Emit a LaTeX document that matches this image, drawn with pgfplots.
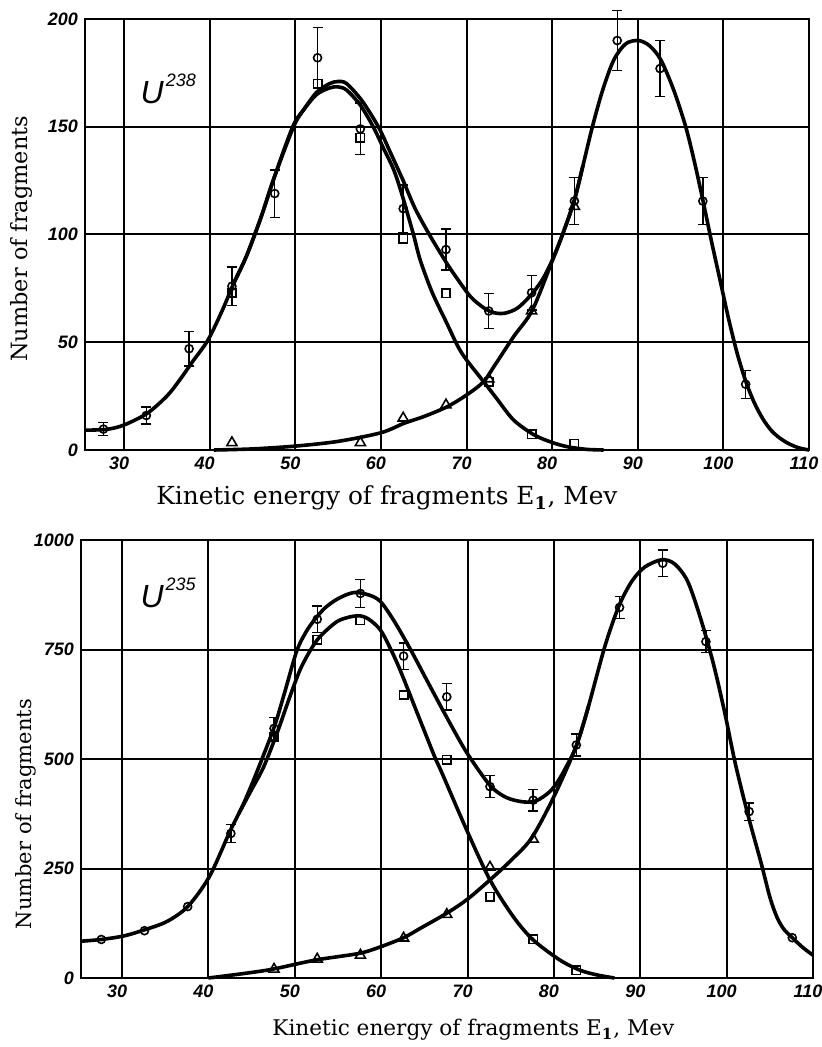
\documentclass[border=0pt]{standalone}
\usepackage{pgfplots}
\pgfplotsset{compat=1.18}
\usepackage{fontspec}
\setmainfont{DejaVu Serif}
\newfontfamily\tickfont{Liberation Sans}
\begin{document}
\begin{tikzpicture}
\useasboundingbox (-41.5pt,225pt) rectangle (369.5pt,-298.5pt);
\pgfplotsset{
  fragstyle/.style={
    scale only axis, clip=false,
    ymin=0, xmax=110,
    xtick={30,40,...,110},
    grid=major, major grid style={black, line width=1pt},
    major tick length=0pt,
    axis line style={line width=1.2pt},
    /pgf/number format/1000 sep={},
    /pgf/number format/assume math mode=true,
    ticklabel style={font=\tickfont\bfseries\itshape\fontsize{9}{10}\selectfont},
    xticklabel style={xshift=-2.5pt},
    label style={font=\fontsize{10.5}{12}\selectfont},
  },
  curve/.style={black, line width=1.8pt, smooth, no marks},
  circ/.style={only marks, mark=o, mark size=2pt, mark options={black, fill=white, line width=0.8pt}},
  circerr/.style={only marks, mark=o, mark size=2pt, mark options={black, fill=white, line width=0.8pt},
    error bars/.cd, y dir=both, y explicit, error mark=|,
    error bar style={black, line width=0.7pt},
    error mark options={black, line width=0.7pt, mark size=2.5pt}},
  sq/.style={only marks, mark=square, mark size=2.1pt, mark options={black, fill=white, line width=0.8pt}},
  tri/.style={only marks, mark=triangle, mark size=2.9pt, mark options={black, fill=white, line width=0.8pt}},
}
% ---------------- top panel: U238 ----------------
\begin{axis}[fragstyle,
  at={(1pt,0pt)}, anchor=south west,
  width=362pt, height=215.5pt,
  xmin=25.44, ymax=200, ytick={0,50,...,200},
  xlabel={Kinetic energy of fragments E\textsubscript{\textbf{1}}, Mev},
  ylabel={Number of fragments},
  xlabel style={at={(axis description cs:0.417,-0.111)}, anchor=center, font=\fontsize{12.4}{14}\selectfont},
  ylabel style={at={(axis description cs:-0.088,0.49)}, anchor=center, rotate=0, font=\fontsize{11.2}{13}\selectfont},
]
% total
\addplot[curve] coordinates {
(25.44,9.2) (28,9.6) (30,11.6) (32.7,17) (35,25) (36.5,32.5) (38,41) (39.8,51) (41.5,65) (42.8,77.3) (44.3,90) (46,108) (47.5,126) (49.8,150) (51,158) (52.5,166) (54,170) (55,171) (56,170) (57.8,162) (59.7,150) (61,139) (62.6,125) (64,112) (65.8,99) (67.7,86.6) (69,79) (70.5,71) (72,66) (73.2,63.7) (74.5,63.5) (76,66) (77.7,72.7) (79,80) (80.2,89.7) (81.4,102) (82.6,116) (83.6,132) (84.7,150) (85.9,167) (87.2,181) (88.6,188.5) (90.1,190) (91.4,187.5) (92.7,181) (94.2,167) (95.6,150) (96.6,134) (97.6,116) (98.6,97) (99.6,79) (100.6,61) (101.6,45) (102.6,32) (103.6,22) (104.6,14.5) (105.6,9) (106.6,5.5) (107.6,3) (108.8,1) (110,0)
};
% squares curve
\addplot[curve] coordinates {
(42.8,77.3) (44.3,90) (46,108) (47.5,126) (49.7,150) (51,158) (52.5,165) (54,168) (55,168.5) (56,167) (57.6,160) (59.1,150) (60.3,140) (61.5,130) (62.5,118) (63.8,100) (64.6,88) (66,73) (67.7,58.8) (69,48) (70,41.8) (72,31.7) (73.5,24) (75.5,13.9) (77.9,7) (80,3.5) (81.8,1.5) (84,0.3) (86,0)
};
% triangles curve
\addplot[curve] coordinates {
(40.5,0) (45,0.5) (50,1.8) (55,4) (60,8) (62.7,12.4) (65,15.5) (67.7,20) (70,25.5) (72,31.7) (73.2,38.7) (75.5,52.6) (77.7,65) (80.2,89.7) (81.4,102) (82.6,116) (83.6,132)
};
\addplot[circerr] table[x=x, y=y, y error=e] {
x y e
27.6 9.7 3
32.6 16 4
37.6 47 8
42.6 76 9
47.6 119 11
52.6 182 14
57.6 149 12
62.6 112 11
67.6 93 9.5
72.6 64.5 8
77.6 73 8
82.6 115.5 11
87.6 190 14
92.6 177 13
97.6 115.5 11
102.6 30.5 6.5
};
\addplot[sq] coordinates {
(42.6,73) (52.6,170) (57.6,145) (62.6,98) (67.6,72.7) (72.6,31.7) (77.6,7.3) (82.6,3)
};
\addplot[tri] coordinates {
(42.6,3.4) (57.6,3.4) (62.6,14.8) (67.6,20.9) (72.6,33) (77.6,64.5) (82.6,113)
};
\node[anchor=base west, inner sep=0pt] at (axis cs:31.9,161)
  {\tickfont\itshape\fontsize{16}{16}\selectfont U\kern1pt\raisebox{8.5pt}{\fontsize{9}{9}\selectfont 238}};
\end{axis}
% ---------------- bottom panel: U235 ----------------
\begin{axis}[fragstyle,
  at={(-1pt,-264pt)}, anchor=south west,
  width=366pt, height=219pt,
  xmin=25.25, ymax=1000, ytick={0,250,...,1000},
  xlabel={Kinetic energy of fragments E\textsubscript{\textbf{1}}, Mev},
  ylabel={Number of fragments},
  xlabel style={at={(axis description cs:0.536,-0.119)}, anchor=center, font=\fontsize{10.8}{12}\selectfont},
  ylabel style={at={(axis description cs:-0.075,0.374)}, anchor=center, rotate=0},
]
\addplot[curve] coordinates {
(25.25,84) (27.6,88) (30.2,96) (32.6,110) (35.2,129) (37.6,163) (40.1,231) (42.5,335) (44,395) (45.5,465) (47.6,572) (48.8,650) (50.2,745) (51.3,790) (52.3,818) (53.5,845) (55,866) (56.8,880) (58.5,875) (59.9,860) (61.5,815) (63.4,750) (65.5,672) (67.6,595) (69.9,515) (72.6,440) (74.5,412) (76.5,402) (78,405) (79.5,425) (80.5,450) (81.5,485) (82.6,530) (84,620) (85.9,757) (87.5,848) (89,905) (90.5,938) (92.5,955) (94,945) (95.5,905) (97,820) (98.5,715) (99.8,604) (101,490) (102.5,370) (104,262) (105,185) (105.8,140) (106.6,112) (107.6,92) (108.8,70) (110,52)
};
\addplot[curve] coordinates {
(43.5,375) (45,430) (46.4,482) (48,562) (49.3,635) (50.6,703) (51.8,748) (52.9,779) (55,815) (57.2,827) (58.5,820) (59.9,795) (61,755) (62.2,703) (64.5,589) (66.2,505) (67,470) (69.9,338) (72.6,224) (75.3,140) (77.6,87) (80.7,41) (83,18) (85,7) (87,0)
};
\addplot[curve] coordinates {
(40,0) (44,10) (47.4,20) (52.4,41) (57.4,56) (59.9,71) (62.6,92) (64.5,113) (67.6,148) (70,180) (72.6,224) (75,268) (77.4,319) (80,414) (82.6,530) (84,620)
};
\addplot[circerr] table[x=x, y=y, y error=e] {
x y e
42.6 330 20
47.6 570 25
52.6 819 30
57.6 878 32
62.6 735 30
67.6 642 30
72.6 437 25
77.6 406 25
82.6 532 25
87.6 846 25
92.6 947 30
97.6 768 25
102.6 380 20
};
\addplot[circ] coordinates {
(27.6,88) (32.6,108) (37.6,163) (107.6,92)
};
\addplot[sq] coordinates {
(47.6,551) (52.6,772) (57.6,817) (62.6,646) (67.6,498) (72.6,186) (77.6,88) (82.6,18)
};
\addplot[tri] coordinates {
(47.6,20) (52.6,43) (57.6,52) (62.6,91) (67.6,145) (72.6,253) (77.6,317)
};
\node[anchor=base west, inner sep=0pt] at (axis cs:32.1,847)
  {\tickfont\itshape\fontsize{16}{16}\selectfont U\kern1pt\raisebox{8.5pt}{\fontsize{9}{9}\selectfont 235}};
\end{axis}
\end{tikzpicture}
\end{document}
